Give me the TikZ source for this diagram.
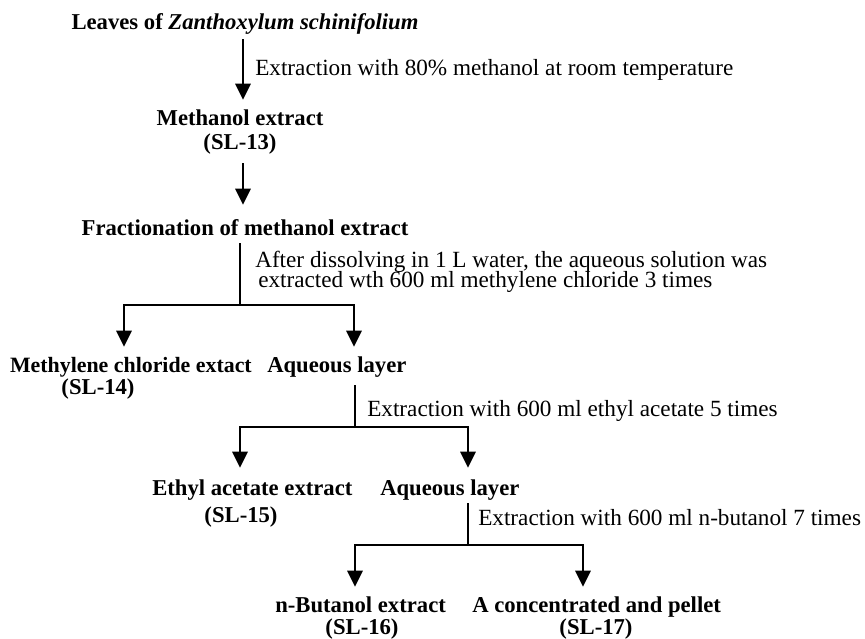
\documentclass[tikz,border=0pt]{standalone}
\usepackage{fontspec}
\setmainfont{Liberation Serif}
\usetikzlibrary{arrows.meta}
\newcommand{\tightlines}{\lineskiplimit=-30pt\relax\lineskip=0pt\relax}
\begin{document}
\begin{tikzpicture}[x=0.75pt,y=-0.75pt,
  bold/.style={inner sep=0pt, anchor=base, font=\fontsize{17}{20}\selectfont\bfseries, text height=10.5pt, text depth=3.2pt},
  note/.style={inner sep=0pt, anchor=base west, font=\fontsize{17.4}{12.5}\selectfont\tightlines},
  conn/.style={line width=1.6pt, draw=black},
  arr/.style={conn, -{Triangle[width=11.5pt,length=12pt]}}]
\useasboundingbox (0,0) rectangle (865,639);
% nodes
\node[bold] (title) at (245,30) {Leaves of \textit{Zanthoxylum schinifolium}};
\node[bold] (meth) at (240,125) {Methanol extract};
\node[bold] (sl13) at (240,149) {(SL-13)};
\node[bold] (frac) at (245,235) {Fractionation of methanol extract};
\node[bold, anchor=base east, font=\fontsize{16.4}{20}\selectfont\bfseries] (mecl) at (252,372) {Methylene chloride extact};
\node[bold, anchor=base west] (aq1) at (267,372) {Aqueous layer};
\node[bold] (sl14) at (98,394) {(SL-14)};
\node[bold, anchor=base west] (etoac) at (152,495) {Ethyl acetate extract};
\node[bold, anchor=base west] (aq2) at (380,495) {Aqueous layer};
\node[bold] (sl15) at (241,522) {(SL-15)};
\node[bold, anchor=base west] (buoh) at (275,612) {n-Butanol extract};
\node[bold, anchor=base west] (pel) at (472,612) {A concentrated and pellet};
\node[bold] (sl16) at (362,634) {(SL-16)};
\node[bold] (sl17) at (596,634) {(SL-17)};
% labels
\node[note] (l1) at (255,75) {Extraction with 80\% methanol at room temperature};
\node[note, anchor=north west, align=left] (l2) at (255,251) {After dissolving in 1 L water, the aqueous solution was\\[2.5pt]\hspace*{2.25pt}extracted wth 600 ml methylene chloride 3 times};
\node[note] (l3) at (367,416) {Extraction with 600 ml ethyl acetate 5 times};
\node[note] (l4) at (478,525) {Extraction with 600 ml n-butanol 7 times};
% junctions
\coordinate (j1) at (240,305);
\coordinate (j2) at (355,427);
\coordinate (j3) at (468,545);
% connectors
\draw[arr, shorten <=3.5pt, shorten >=8.25pt] (243,0 |- title.south) -- (243,0 |- meth.north);
\draw[arr, shorten <=7.3pt, shorten >=12pt] (243,0 |- sl13.south) -- (243,0 |- frac.north);
\draw[conn, shorten <=2.8pt] (j1 |- frac.south) -- (j1);
\draw[arr, shorten >=8.25pt] (j1) -| (124,0 |- mecl.north);
\draw[arr, shorten >=8.25pt] (j1) -| (354,0 |- aq1.north);
\draw[conn, shorten <=6.5pt] (j2 |- aq1.south) -- (j2);
\draw[arr, shorten >=9.75pt] (j2) -| (240,0 |- etoac.north);
\draw[arr, shorten >=9.75pt] (j2) -| (468,0 |- aq2.north);
\draw[conn, shorten <=2.8pt] (j3 |- aq2.south) -- (j3);
\draw[arr, shorten >=8.25pt] (j3) -| (355,0 |- buoh.north);
\draw[arr, shorten >=8.25pt] (j3) -| (583,0 |- pel.north);
\end{tikzpicture}
\end{document}
